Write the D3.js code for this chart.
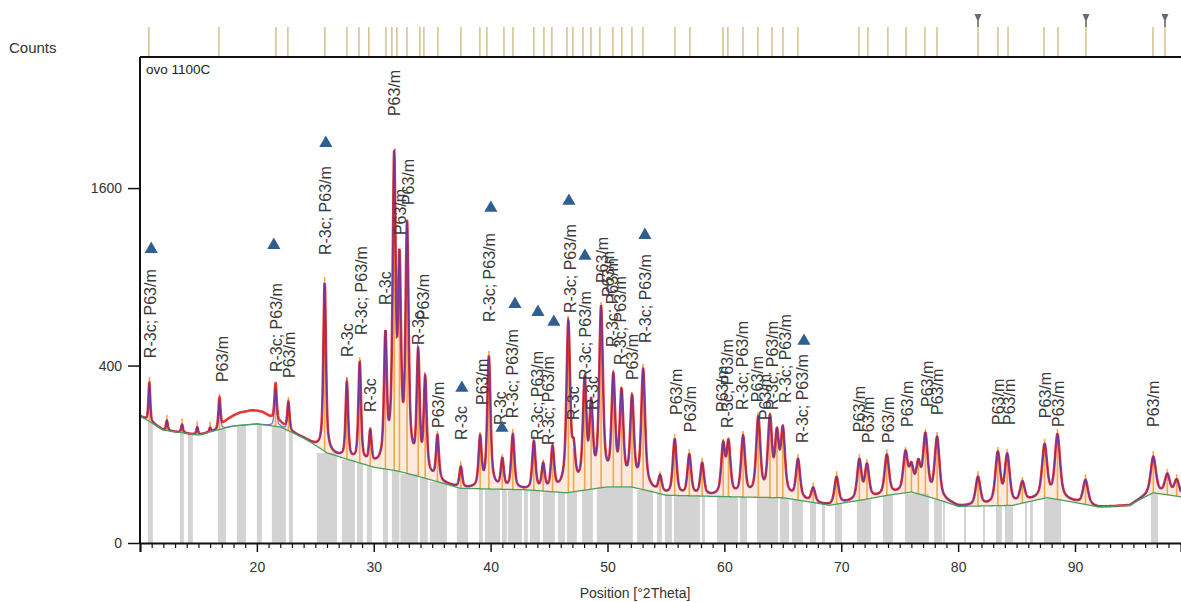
<!DOCTYPE html>
<html><head><meta charset="utf-8">
<script src="https://cdn.jsdelivr.net/npm/d3@7"></script>
<style>
html,body{margin:0;padding:0;background:#fff;}
svg{display:block;font-family:"Liberation Sans",Arial,sans-serif;}
</style></head>
<body><svg id="c" width="1181" height="602"></svg>
<script>
// ---------- data ----------
const xTicks = [20, 30, 40, 50, 60, 70, 80, 90];
const yTicks = [0, 400, 1600];
// background (2θ, counts)
const bkgPoints = [[10,205],[12,162],[15,148],[18,174],[20,180],[22,171],[24,140],[26,103],[28,87],[30,73],[32,66],[35,50],[37.4,38],[40,37],[43,36],[46.5,32],[50,40],[52,40],[55,29],[58,28],[61,27],[65,26],[69,18],[72,24],[74,29],[76,33],[78.5,23],[80,17],[84.7,18],[87.6,26],[89,23],[92,16.5],[94.7,18],[96.7,32],[99.1,27]];
// peaks (2θ, counts at top)
const peaks = [[10.8,325],[12.3,190],[13.6,178],[14.9,170],[16.0,168],[16.8,260],[21.6,305],[22.7,249],[25.8,858],[27.7,325],[28.8,411],[29.7,154],[31.0,540],[31.75,1900],[32.2,1000],[32.85,1284],[33.8,458],[34.4,337],[35.45,143],[37.45,73],[39.1,140],[39.85,439],[41.0,87],[41.9,148],[43.7,130],[44.5,77],[45.3,115],[46.65,620],[47.1,100],[48.05,337],[48.6,240],[49.45,701],[50.5,350],[51.2,286],[52.1,267],[53.05,380],[54.5,55],[55.75,135],[57.0,98],[58.1,80],[59.9,122],[60.35,127],[61.6,143],[62.9,198],[63.9,198],[64.5,150],[65.0,162],[66.3,87],[67.6,38],[69.6,55],[71.55,87],[72.2,77],[73.9,98],[75.5,103],[76.0,72],[76.6,78],[77.2,148],[78.2,140],[81.7,55],[83.4,103],[84.2,98],[85.5,46],[87.4,122],[88.5,148],[90.9,50],[96.7,94],[97.9,59],[98.7,50]];
// amorphous excess in the observed trace (2θ, counts)
const amorphous = [[16.5,0],[17.5,25],[18.5,40],[19.5,45],[20.5,40],[21.5,20],[23,0]];
// reference pattern lines in the top strip (2θ)
const refLines = [10.76,16.75,21.63,22.65,25.82,27.70,28.73,29.58,31.04,31.55,31.98,32.84,33.95,34.29,35.49,37.46,39.08,39.68,41.14,41.91,43.70,44.56,45.24,46.53,47.04,47.90,48.58,49.35,50.46,51.23,52.09,53.03,55.77,57.05,59.88,60.30,61.59,62.87,64.07,65.01,66.29,71.51,72.28,73.99,75.54,77.16,78.19,81.70,83.41,84.27,87.35,88.54,90.94,96.67,97.70];
const refMarked = [81.70, 90.94, 97.70];
// grey peak-region bands (2θ from, 2θ to)
const grayBands = [[10.67,11.10],[13.41,13.75],[14.10,14.52],[16.66,17.35],[18.29,19.06],[20.00,20.43],[21.28,22.48],[22.74,23.08],[25.13,26.85],[27.27,28.39],[28.56,29.07],[29.41,29.84],[30.78,31.21],[31.55,32.20],[32.28,33.78],[33.95,34.63],[34.80,36.26],[37.11,38.06],[39.00,39.34],[39.51,40.80],[40.97,41.39],[41.48,42.68],[42.85,43.19],[43.36,44.22],[44.47,45.50],[45.76,46.36],[46.53,47.38],[47.81,48.75],[49.09,52.17],[52.52,53.89],[54.23,54.66],[54.91,55.51],[55.68,57.91],[58.08,58.34],[59.37,61.17],[61.33,61.93],[62.79,64.60],[64.75,65.52],[65.78,66.72],[67.32,67.84],[68.35,68.61],[69.46,70.06],[71.34,72.54],[73.57,74.42],[75.45,77.50],[77.93,78.61],[78.70,78.87],[80.50,80.67],[82.13,82.30],[83.24,83.75],[84.01,84.69],[85.72,85.89],[86.15,86.40],[87.35,88.80],[96.50,97.10]];
// phase labels (2θ, counts at label start, text)
const labels = [[10.84,434,"R-3c; P63/m"],[17.0,329,"P63/m"],[21.63,371,"R-3c; P63/m"],[22.74,346,"P63/m"],[25.82,1053,"R-3c; P63/m"],[27.70,439,"R-3c"],[28.90,549,"R-3c; P63/m"],[29.67,218,"R-3c"],[30.95,719,"R-3c"],[31.72,2315,"P63/m"],[32.24,1204,"P63/m"],[32.92,1450,"P63/m"],[33.78,498,"R-3c"],[34.2,631,"P63/m"],[35.49,168,"P63/m"],[37.46,135,"R-3c"],[39.25,242,"P63/m"],[39.85,620,"R-3c; P63/m"],[40.79,177,"R-3c"],[41.82,198,"R-3c; P63/m"],[43.96,135,"R-3c; P63/m"],[44.9,122,"R-3c; P63/m"],[46.78,672,"R-3c; P63/m"],[47.04,192,"R-3c"],[48.07,337,"R-3c; P63/m"],[48.66,225,"R-3c"],[49.52,858,"P63/m"],[50.04,768,"P63/m"],[50.38,488,"R-3c; P63/m"],[51.06,402,"R-3c; P63/m"],[52.09,337,"P63/m"],[53.2,508,"R-3c; P63/m"],[55.85,208,"P63/m"],[57.05,156,"P63/m"],[59.79,218,"P63/m"],[60.22,168,"R-3c; P63/m"],[61.5,225,"R-3c; P63/m"],[62.79,252,"P63/m"],[63.47,192,"P63/m"],[64.07,225,"R-3c; P63/m"],[65.18,249,"R-3c; P63/m"],[66.64,127,"R-3c; P63/m"],[71.5,156,"P63/m"],[72.35,127,"P63/m"],[74.05,127,"P63/m"],[75.62,171,"P63/m"],[77.33,235,"P63/m"],[78.19,208,"P63/m"],[83.41,177,"P63/m"],[84.35,177,"P63/m"],[87.43,198,"P63/m"],[88.54,171,"P63/m"],[96.67,171,"P63/m"]];
// blue triangle markers (2θ, counts)
const triangles = [[10.96,1097],[21.45,1127],[25.9,2031],[37.54,305],[40.02,1425],[40.97,168],[42.08,725],[44.05,677],[45.41,620],[46.70,1485],[48.07,1046],[53.2,1204],[66.81,518]];

// ---------- layout ----------
const svg = d3.select("#c");
const L = 140, R = 1181, T = 57, B = 543;
const x = d3.scaleLinear().domain([10, 99.07]).range([L, R]);
const y = d3.scaleSqrt().domain([0, 3000]).range([B, T]);
const bkg = d3.scaleLinear().domain(bkgPoints.map(d => d[0])).range(bkgPoints.map(d => d[1])).clamp(true);
const amo = d3.scaleLinear().domain(amorphous.map(d => d[0])).range(amorphous.map(d => d[1])).clamp(true);

function pv(dt, fw) {
  const u = 2 * dt / fw;
  return 0.55 / (1 + u * u) + 0.45 * Math.exp(-Math.LN2 * u * u);
}
const peakNet = peaks.map(p => [p[0], Math.max(p[1] - bkg(p[0]), 0)]);
const grid = d3.range(10, 99.08, 0.012);
const prof = grid.map(t => {
  let s = 0;
  const fw = 0.17 + 0.0035 * (t - 10);
  for (const [p, h] of peakNet) {
    const d = t - p;
    if (Math.abs(d) < 3) s += h * pv(d, fw);
  }
  const b = bkg(t);
  return {t, b, calc: b + s, obs: b + s + amo(t)};
});

const g = svg.append("g");
const clipId = "pc";
svg.append("clipPath").attr("id", clipId).append("rect").attr("x", L).attr("y", T).attr("width", R - L).attr("height", B - T);
const plot = g.append("g").attr("clip-path", `url(#${clipId})`);

// grey bands
plot.selectAll("rect.band").data(grayBands).join("rect").attr("class", "band")
  .attr("x", d => x(d[0])).attr("width", d => x(d[1]) - x(d[0]))
  .attr("y", d => y(bkg((d[0] + d[1]) / 2)))
  .attr("height", d => B - y(bkg((d[0] + d[1]) / 2)))
  .attr("fill", "#d3d3d3");

// peach fill between background and calc
plot.append("path").datum(prof)
  .attr("d", d3.area().x(d => x(d.t)).y0(d => y(d.b)).y1(d => y(d.calc)))
  .attr("fill", "#f6b48a").attr("opacity", 0.28);

// orange peak sticks
plot.selectAll("line.stick").data(peaks).join("line").attr("class", "stick")
  .attr("x1", d => x(d[0])).attr("x2", d => x(d[0]))
  .attr("y1", d => y(bkg(d[0]))).attr("y2", d => y(d[1]) - 6)
  .attr("stroke", "#f0a848").attr("stroke-width", 1.6);

// observed (red)
plot.append("path").datum(prof)
  .attr("d", d3.line().x(d => x(d.t)).y(d => y(d.obs)))
  .attr("fill", "none").attr("stroke", "#e3241c").attr("stroke-width", 2.6).attr("opacity", 0.9);
// calculated (blue)
plot.append("path").datum(prof)
  .attr("d", d3.line().x(d => x(d.t)).y(d => y(d.calc)))
  .attr("fill", "none").attr("stroke", "#4433c8").attr("stroke-width", 1.3).attr("opacity", 0.7);
// background (green)
plot.append("path").datum(prof)
  .attr("d", d3.line().x(d => x(d.t)).y(d => y(d.b)))
  .attr("fill", "none").attr("stroke", "#4aa05a").attr("stroke-width", 1.3);

// labels
g.selectAll("text.lab").data(labels).join("text").attr("class", "lab")
  .attr("transform", d => `translate(${x(d[0])},${y(d[1])}) rotate(-90)`)
  .attr("dy", "0.36em").attr("font-size", 16).attr("fill", "#3a3a3a")
  .text(d => d[2]);

// triangles
g.selectAll("path.tri").data(triangles).join("path").attr("class", "tri")
  .attr("transform", d => `translate(${x(d[0])},${y(d[1])})`)
  .attr("d", d3.symbol(d3.symbolTriangle, 75))
  .attr("fill", "#2f5f91");

// top reference strip
g.selectAll("line.ref").data(refLines).join("line").attr("class", "ref")
  .attr("x1", d => x(d)).attr("x2", d => x(d)).attr("y1", 27).attr("y2", T)
  .attr("stroke", "#d8c394").attr("stroke-width", 1.6);
g.selectAll("path.refm").data(refMarked).join("path").attr("class", "refm")
  .attr("transform", d => `translate(${x(d)},14)`)
  .attr("d", "M-3.5,0 L3.5,0 L0,8 Z M-0.8,6 L0.8,6 L0.8,13 L-0.8,13 Z")
  .attr("fill", "#6a6a6a");

// frame
g.append("line").attr("x1", L).attr("x2", R).attr("y1", T).attr("y2", T).attr("stroke", "#111").attr("stroke-width", 2);
g.append("line").attr("x1", L).attr("x2", L).attr("y1", T).attr("y2", B).attr("stroke", "#111").attr("stroke-width", 2);

// x axis
const xa = g.append("g").attr("transform", `translate(0,${B})`)
  .call(d3.axisBottom(x).tickValues(xTicks).tickSize(9).tickPadding(10).tickFormat(d3.format("d")));
xa.select(".domain").attr("stroke", "#111").attr("stroke-width", 2.2);
xa.selectAll(".tick line").attr("stroke", "#111").attr("stroke-width", 1.5);
xa.selectAll("text").attr("font-size", 14).attr("fill", "#333").attr("font-family", "Liberation Sans, Arial, sans-serif");
const xm = g.append("g").attr("transform", `translate(0,${B})`)
  .call(d3.axisBottom(x).tickValues(d3.range(11, 99, 1).filter(v => v % 10 !== 0)).tickSize(5).tickFormat(""));
xm.select(".domain").remove();
xm.selectAll(".tick line").attr("stroke", "#111").attr("stroke-width", 1.2);

// y axis
const ya = g.append("g").attr("transform", `translate(${L},0)`)
  .call(d3.axisLeft(y).tickValues(yTicks).tickSize(12).tickPadding(6).tickFormat(d3.format("d")));
ya.select(".domain").remove();
ya.selectAll(".tick line").attr("stroke", "#111").attr("stroke-width", 1.5);
ya.selectAll("text").attr("font-size", 14).attr("fill", "#333").attr("font-family", "Liberation Sans, Arial, sans-serif");

// titles
svg.append("text").attr("x", 9).attr("y", 53).attr("font-size", 15).attr("fill", "#333").text("Counts");
svg.append("text").attr("x", 146).attr("y", 74).attr("font-size", 13.5).attr("fill", "#222").text("ovo 1100C");
svg.append("text").attr("x", 635).attr("y", 598).attr("text-anchor", "middle").attr("font-size", 14).attr("fill", "#333").text("Position [°2Theta]");
</script></body></html>
